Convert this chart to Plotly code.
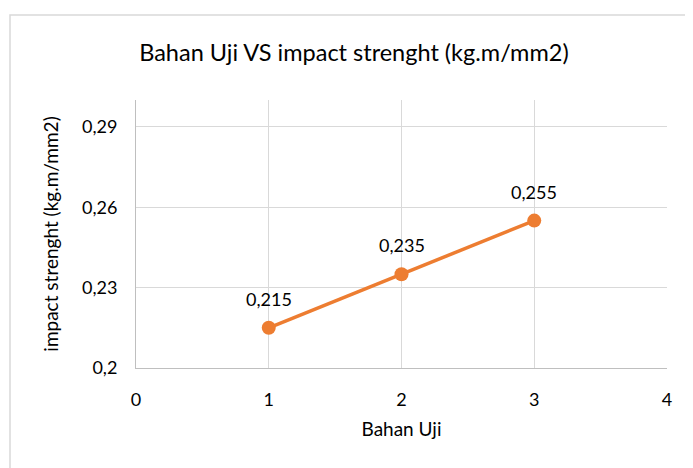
import plotly.graph_objects as go

bahan_uji = [1, 2, 3]
impact = [0.215, 0.235, 0.255]
labels = ["0,215", "0,235", "0,255"]
y_ticks = [0.2, 0.23, 0.26, 0.29]
y_ticklabels = ["0,2", "0,23", "0,26", "0,29"]
x_ticks = [0, 1, 2, 3, 4]

FONT = "Lato, 'Open Sans', sans-serif"
fig = go.Figure()
fig.add_trace(go.Scatter(
    x=bahan_uji, y=impact, mode="lines+markers",
    line=dict(color="#ED7D31", width=3.5),
    marker=dict(color="#ED7D31", size=14),
    cliponaxis=False, showlegend=False,
))
annotations = [dict(x=xv, y=yv, text=t, showarrow=False, xref="x", yref="y",
                    yshift=29, font=dict(size=18, color="#000000", family=FONT))
               for xv, yv, t in zip(bahan_uji, impact, labels)]
fig.update_layout(
    width=685, height=460,
    margin=dict(l=128, r=26, t=92, b=100),
    paper_bgcolor="white", plot_bgcolor="white",
    font=dict(family=FONT, color="#000000"),
    title=dict(text="Bahan Uji VS impact strenght (kg.m/mm2)",
               x=0.505, xanchor="center", y=0.902, yanchor="middle",
               font=dict(size=23.5, family=FONT, color="#000000")),
    annotations=annotations,
    shapes=[dict(type="rect", xref="paper", yref="paper",
                 x0=-126/531, x1=(710-136)/531,
                 y0=-120/268, y1=(368-15)/268,
                 line=dict(color="#d9d9d9", width=1.5), fillcolor="rgba(0,0,0,0)",
                 layer="below")],
)
fig.update_xaxes(range=[0, 4], tickvals=x_ticks, showgrid=True, gridcolor="#d9d9d9",
                 gridwidth=1, zeroline=False, showline=True, linecolor="#bfbfbf", linewidth=1,
                 ticks="", tickfont=dict(size=18), ticklabelstandoff=15,
                 title=dict(text="Bahan Uji", font=dict(size=19), standoff=14))
fig.update_yaxes(range=[0.2, 0.3], tickvals=y_ticks, ticktext=y_ticklabels,
                 showgrid=True, gridcolor="#d9d9d9", gridwidth=1, zeroline=False,
                 showline=True, linecolor="#bfbfbf", linewidth=1, ticks="",
                 tickfont=dict(size=18), ticklabelstandoff=14,
                 title=dict(text="impact strenght (kg.m/mm2)", font=dict(size=19), standoff=18))
fig.write_html("out.html")
